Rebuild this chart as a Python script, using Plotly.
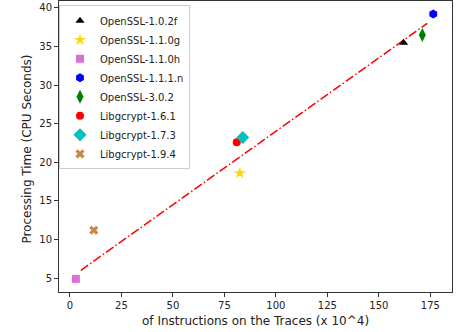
import plotly.graph_objects as go

# Data
labels = ["OpenSSL-1.0.2f", "OpenSSL-1.1.0g", "OpenSSL-1.1.0h", "OpenSSL-1.1.1.n",
          "OpenSSL-3.0.2", "Libgcrypt-1.6.1", "Libgcrypt-1.7.3", "Libgcrypt-1.9.4"]
instructions = [162.0, 82.5, 2.9, 176.4, 171.1, 81.0, 83.9, 11.6]
cpu_seconds = [35.5, 18.6, 4.9, 39.2, 36.5, 22.6, 23.2, 11.2]

# Fitted trend line (endpoints)
fit_x = [5.3, 173.5]
fit_y = [6.0, 38.0]

x_ticks = [0, 25, 50, 75, 100, 125, 150, 175]
y_ticks = [5, 10, 15, 20, 25, 30, 35, 40]

x_title = "of Instructions on the Traces (x 10^4)"
y_title = "Processing Time (CPU Seconds)"

symbols = ["triangle-up", "star", "square", "hexagon", "diamond-tall", "circle", "diamond", "x"]
colors = ["#000000", "#FFD700", "#DA70D6", "#0000FF", "#008000", "#FF0000", "#00BFBF", "#CD853F"]
sizes = [8, 9, 8, 9, 10, 8, 10, 8]

fig = go.Figure()
fig.add_trace(go.Scatter(
    x=fit_x, y=fit_y, mode="lines", showlegend=False,
    line=dict(color="#FF0000", width=1.5, dash="9px,2.5px,1.5px,2.5px"),
))
for lab, xv, yv, sym, col, sz in zip(labels, instructions, cpu_seconds, symbols, colors, sizes):
    fig.add_trace(go.Scatter(
        x=[xv], y=[yv], mode="markers", name=lab,
        marker=dict(symbol=sym, color=col, size=sz, line=dict(width=0)),
    ))

axis_common = dict(
    showgrid=False, zeroline=False, showline=True, mirror=True,
    linecolor="#333333", linewidth=1, ticks="outside", ticklen=4,
    tickcolor="#333333", tickwidth=1, automargin=False,
    tickfont=dict(family="DejaVu Sans", size=10, color="#222222"),
)

fig.update_layout(
    width=459, height=332,
    margin=dict(l=59, r=7, t=1, b=40, autoexpand=False),
    paper_bgcolor="white", plot_bgcolor="white",
    font=dict(family="DejaVu Sans", color="#222222"),
    xaxis=dict(range=[-5.3, 185.5], tickvals=x_ticks, **axis_common),
    yaxis=dict(range=[3.2, 40.9], tickvals=y_ticks, **axis_common),
    legend=dict(x=0.0, y=0.985, xanchor="left", yanchor="top",
                bgcolor="rgba(255,255,255,0.8)", bordercolor="#cccccc",
                borderwidth=1, font=dict(size=10, color="#222222"),
                itemwidth=30, tracegroupgap=0),
    annotations=[
        dict(text=x_title, xref="paper", yref="paper", x=0.5, y=-0.10,
             xanchor="center", yanchor="middle", showarrow=False,
             font=dict(size=12, color="#222222")),
        dict(text=y_title, xref="paper", yref="paper", x=-0.081, y=0.49,
             xanchor="center", yanchor="middle", showarrow=False, textangle=-90,
             font=dict(size=12, color="#222222")),
    ],
)

fig.write_html(
    "out.html",
    config={"displayModeBar": False},
    post_script="document.body.style.margin='0';document.body.style.overflow='hidden';",
)
